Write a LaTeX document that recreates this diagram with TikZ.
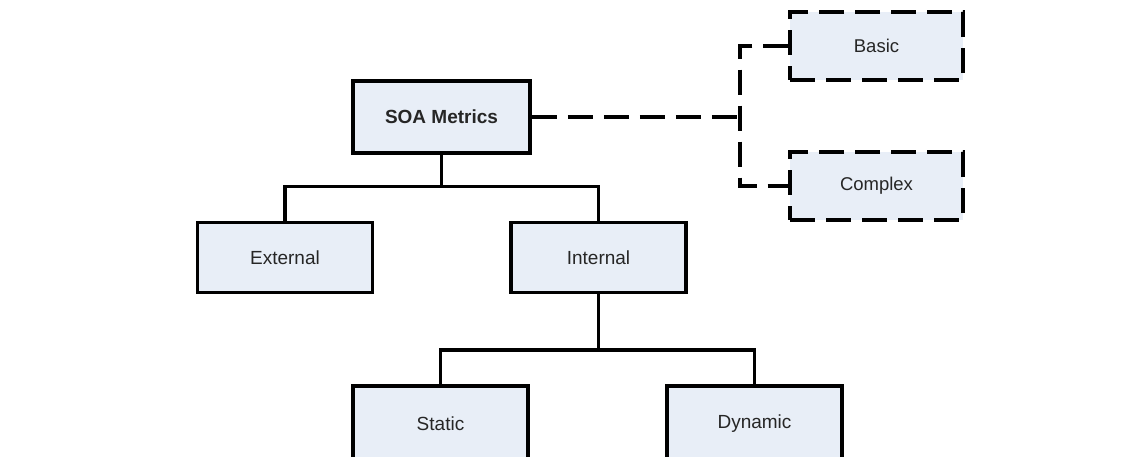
\documentclass[tikz,border=0pt]{standalone}
\usepackage{fontspec}
\setmainfont{Liberation Sans}
\definecolor{boxfill}{HTML}{E8EEF7}
\tikzset{
  box/.style={draw=black, fill=boxfill, line width=3.6pt, minimum width=175pt, minimum height=70pt,
    inner sep=0pt, font=\fontsize{19}{22}\selectfont, text=black!85},
  dbox/.style={box, dash pattern=on 25pt off 11pt, line width=3.4pt, minimum width=173pt, minimum height=68pt, font=\fontsize{18.5}{22}\selectfont},
  conn/.style={draw=black, line width=3.6pt},
  dconn/.style={draw=black, line width=3.4pt, dash pattern=on 25pt off 11pt}
}
\begin{document}
\begin{tikzpicture}[x=1pt,y=-1pt]
\useasboundingbox (0,0) rectangle (1143,456);
\clip (0,0) rectangle (1143,456);
\fill[white] (0,0) rectangle (1143,456);
\node[box, minimum width=177pt, minimum height=72pt, font=\bfseries\fontsize{19}{22}\selectfont] (soa) at (441.5,117) {SOA Metrics};
\node[box] (ext) at (285,257.5) {External};
\node[box] (int) at (598.5,257.5) {Internal};
\node[box, minimum height=76pt] (sta) at (440.5,424) {Static};
\node[box, minimum height=76pt] (dyn) at (754.5,424) {Dynamic};
\node[dbox] (bas) at (876.5,46) {Basic};
\node[dbox] (com) at (876.5,186) {Complex};
\coordinate (j1) at (441.5,186.5);
\coordinate (j2) at (598.5,350);
\coordinate (j3) at (740,117);
\draw[conn] (soa.south) -- (j1);
\draw[conn] (ext.north) |- (j1) -| (int.north);
\draw[conn] (int.south) -- (j2);
\draw[conn] (sta.north) |- (j2) -| (dyn.north);
\draw[dconn] (soa.east) -- (j3);
\draw[dconn] (bas.west) -| (j3) |- (com.west);
\end{tikzpicture}
\end{document}
